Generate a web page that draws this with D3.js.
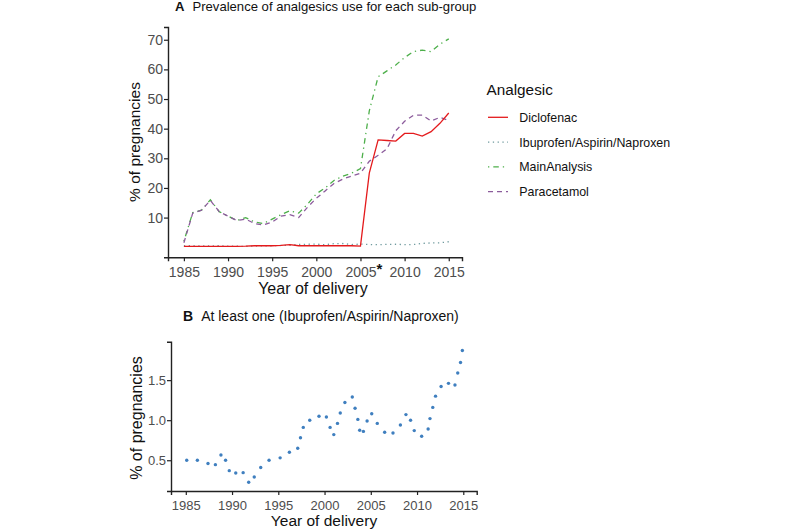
<!DOCTYPE html>
<html><head><meta charset="utf-8">
<script src="https://cdn.jsdelivr.net/npm/d3@7"></script>
<style>body{margin:0;background:#fff;} text{font-family:Arial,"Liberation Sans",sans-serif;}</style>
</head><body>
<svg id="c" width="800" height="530"></svg>
<script>
const years = d3.range(1985, 2016);
const diclofenac = [0.3,0.3,0.3,0.3,0.3,0.3,0.3,0.35,0.5,0.5,0.5,0.6,0.85,0.5,0.5,0.5,0.5,0.5,0.5,0.5,0.4,25,36.2,36,35.8,38.4,38.4,37.5,39,41.8,45.3];
const ibuprofen = [0.5,0.5,0.45,0.45,0.5,0.35,0.35,0.25,0.4,0.5,0.5,0.6,0.65,0.95,1.0,1.05,0.85,1.2,1.25,0.9,1.05,0.9,0.85,0.95,1.0,0.85,0.9,1.3,1.45,1.5,1.85];
const mainAnalysis = [2,11.7,12.5,16,12,10.5,9,10,8.5,8,9.5,11,12.3,11.5,14.5,18,20,22.5,24,25,26.5,46,57.5,59.5,61.5,64,66,66.5,66,68.5,70.3];
const paracetamol = [1.5,11.5,12.5,15.8,12,10.5,9,9.5,8,7.5,8.5,10.5,11,10,13.5,16.5,19,21.5,23,24,25,29,31,33.2,39.3,42.5,44.5,44.6,42.6,43.8,42.8];
const seriesNames = ["Diclofenac","Ibuprofen/Aspirin/Naproxen","MainAnalysis","Paracetamol"];
const seriesColors = ["#e41a1c","#6f9a9e","#4daf4a","#8c5c9c"];
const seriesDash = [null,"1.3,3.5","1.3,4,5.5,4","5,4"];
const xTicksA = [1985,1990,1995,2000,2005,2010,2015];
const yTicksA = [10,20,30,40,50,60,70];

const bYears = [1985.1,1986.25,1987.4,1988.2,1988.8,1989.3,1989.7,1990.4,1991.2,1991.8,1992.4,1993.1,1994.0,1995.2,1996.2,1997.1,1997.4,1997.7,1998.4,1999.4,2000.2,2000.6,2001.0,2001.4,2001.7,2002.2,2003.0,2003.3,2003.6,2003.8,2004.2,2004.6,2005.1,2005.7,2006.5,2007.4,2008.2,2008.8,2009.3,2009.7,2010.5,2011.2,2011.4,2011.7,2012.0,2012.6,2013.4,2014.1,2014.4,2014.7,2014.9];
const bValues = [0.50,0.50,0.46,0.445,0.566,0.50,0.37,0.34,0.345,0.225,0.29,0.41,0.50,0.53,0.60,0.65,0.78,0.91,1.00,1.05,1.04,0.91,0.82,0.96,1.09,1.22,1.29,1.15,1.01,0.875,0.86,0.99,1.08,0.96,0.85,0.84,0.94,1.07,1.00,0.87,0.80,0.89,1.02,1.16,1.30,1.42,1.46,1.44,1.59,1.72,1.87];
const xTicksB = [1985,1990,1995,2000,2005,2010,2015];
const yTicksB = [0.5,1.0,1.5];

const svg = d3.select("#c");
const axisColor = "#222";
const tickText = "#4d4d4d";

// ---------- Panel A ----------
const xA = d3.scaleLinear().domain([1983.2, 2016.5]).range([168, 462]);
const yA = d3.scaleLinear().domain([-3.4, 74.3]).range([257.3, 27]);
const gA = svg.append("g");

const axA = gA.append("g").attr("transform","translate(0,257.3)")
  .call(d3.axisBottom(xA).tickValues(xTicksA).tickSizeOuter(0).tickSize(4).tickFormat(d3.format("d")));
const ayA = gA.append("g").attr("transform","translate(168,0)")
  .call(d3.axisLeft(yA).tickValues(yTicksA).tickSizeOuter(0).tickSize(4).tickFormat(d3.format("d")));
[axA, ayA].forEach(a => {
  a.select(".domain").attr("stroke", axisColor).attr("stroke-width", 1.4);
  a.selectAll(".tick line").attr("stroke", axisColor).attr("stroke-width", 1.2);
  a.selectAll(".tick text").attr("fill", tickText).attr("font-size", 14).attr("font-family","Arial, 'Liberation Sans', sans-serif");
});
axA.selectAll(".tick text").attr("dy","0.92em");
ayA.selectAll(".tick text").attr("x",-5);

const allSeries = [diclofenac, ibuprofen, mainAnalysis, paracetamol];
const lineA = d3.line().x((d,i)=>xA(years[i])).y(d=>yA(d));
[2,3,1,0].forEach(k => {
  gA.append("path").datum(allSeries[k]).attr("d", lineA)
    .attr("fill","none").attr("stroke", seriesColors[k]).attr("stroke-width", 1.3)
    .attr("stroke-dasharray", seriesDash[k]);
});

gA.append("text").attr("x", 376.5).attr("y", 274).attr("font-size", 15).attr("fill","#111").attr("font-weight","bold").text("*");

gA.append("text").attr("x", 313).attr("y", 294).attr("text-anchor","middle").attr("font-size",16).attr("fill","#111").text("Year of delivery");
gA.append("text").attr("transform","translate(140,142) rotate(-90)").attr("text-anchor","middle").attr("font-size",15.5).attr("fill","#111").text("% of pregnancies");

const tA = gA.append("text").attr("x",175).attr("y",11).attr("font-size",13.1).attr("fill","#111");
tA.append("tspan").attr("font-weight","bold").text("A");
tA.append("tspan").attr("dx",8).text("Prevalence of analgesics use for each sub-group");

const lg = gA.append("g");
lg.append("text").attr("x",486.5).attr("y",95).attr("font-size",15.3).attr("fill","#111").text("Analgesic");
seriesNames.forEach((n,i) => {
  const cy = 117.3 + i*24.8;
  lg.append("line").attr("x1",488).attr("x2",508).attr("y1",cy).attr("y2",cy)
    .attr("stroke",seriesColors[i]).attr("stroke-width",1.3).attr("stroke-dasharray",seriesDash[i]);
  lg.append("text").attr("x",519.3).attr("y",cy+4.4).attr("font-size",12.4).attr("fill","#111").text(n);
});

// ---------- Panel B ----------
const xB = d3.scaleLinear().domain([1983.4, 2016.45]).range([171, 476.7]);
const yB = d3.scaleLinear().domain([0.116, 1.98]).range([491, 341.7]);
const gB = svg.append("g");
const axB = gB.append("g").attr("transform","translate(0,491)")
  .call(d3.axisBottom(xB).tickValues(xTicksB).tickSizeOuter(0).tickSize(4).tickFormat(d3.format("d")));
const ayB = gB.append("g").attr("transform","translate(171,0)")
  .call(d3.axisLeft(yB).tickValues(yTicksB).tickSizeOuter(0).tickSize(4).tickFormat(d3.format(".1f")));
[axB, ayB].forEach(a => {
  a.select(".domain").attr("stroke", axisColor).attr("stroke-width", 1.4);
  a.selectAll(".tick line").attr("stroke", axisColor).attr("stroke-width", 1.2);
  a.selectAll(".tick text").attr("fill", tickText).attr("font-size", 13).attr("font-family","Arial, 'Liberation Sans', sans-serif");
});
axB.selectAll(".tick text").attr("dy","0.95em");
ayB.selectAll(".tick text").attr("x",-5);

gB.selectAll("circle.pt").data(bValues).enter().append("circle").attr("class","pt")
  .attr("cx",(d,i)=>xB(bYears[i])).attr("cy",d=>yB(d)).attr("r",1.7).attr("fill","#3f7fbf");

gB.append("text").attr("x", 324).attr("y", 526).attr("text-anchor","middle").attr("font-size",15.5).attr("fill","#111").text("Year of delivery");
gB.append("text").attr("transform","translate(142,418) rotate(-90)").attr("text-anchor","middle").attr("font-size",16).attr("fill","#111").text("% of pregnancies");
const tB = gB.append("text").attr("x",183).attr("y",321).attr("font-size",14).attr("fill","#111");
tB.append("tspan").attr("font-weight","bold").text("B");
tB.append("tspan").attr("dx",8).text("At least one (Ibuprofen/Aspirin/Naproxen)");
</script>
</body></html>
